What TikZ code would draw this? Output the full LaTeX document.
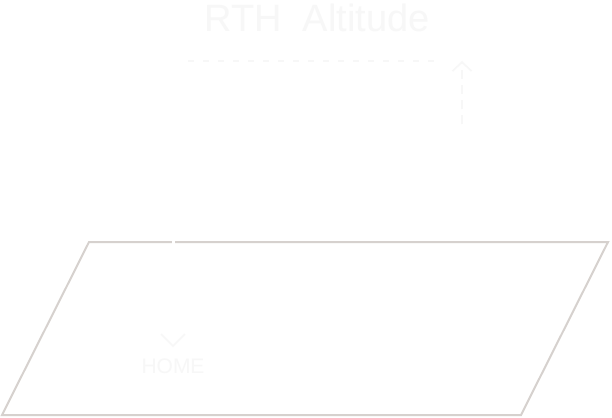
\documentclass[tikz,border=0pt]{standalone}
\usepackage{fontspec}
\setmainfont{Liberation Sans}
\usetikzlibrary{arrows.meta}
\definecolor{groundline}{HTML}{D6D1CE}
\definecolor{faint}{HTML}{F7F7F7}
\tikzset{
  ground/.style = {draw=groundline, line width=2pt, line join=miter},
  faintdash/.style = {draw=faint, line width=1.6pt, dash pattern=on 6pt off 9pt},
  faintlabel/.style = {text=faint, inner sep=0pt},
}

\begin{document}
\begin{tikzpicture}[x=1pt,y=-1pt]
          \useasboundingbox (0,0) rectangle (612,417);
          \fill[white] (0,0) rectangle (612,417);

          % ground plane
          \coordinate (g_tl) at (89,242);
          \coordinate (g_tr) at (608,242);
          \coordinate (g_br) at (521,415);
          \coordinate (g_bl) at (2,415);
          \draw[ground] (g_tl) -- (g_tr) -- (g_br) -- (g_bl) -- cycle;

          % title
          \node[faintlabel, font=\fontsize{38}{40}\selectfont] (rth) at (317,18) {RTH\ \ Altitude};

          % altitude line
          \coordinate (alt_l) at (188,61);
          \coordinate (alt_r) at (438,61);
          \draw[faintdash] (alt_l) -- (alt_r);

          % climb arrow
          \coordinate (climb_s) at (462,124);
          \coordinate (climb_e) at (462,61);
          \draw[faintdash, dash pattern=on 9pt off 6pt,
                -{Straight Barb[length=9pt,width=19pt,line width=1.6pt]}] (climb_s) -- (climb_e);

          % home point
          \coordinate (path_top) at (173.5,236);
          \coordinate (home_pt) at (173.5,333);
          \draw[white, line width=3pt] (path_top) -- (home_pt);
          \draw[faint, line width=1.6pt] (161,334) -- (173,346) -- (185,334);
          \node[faintlabel, font=\fontsize{21}{22}\selectfont] (home) at (173,366) {HOME};
\end{tikzpicture}
\end{document}
